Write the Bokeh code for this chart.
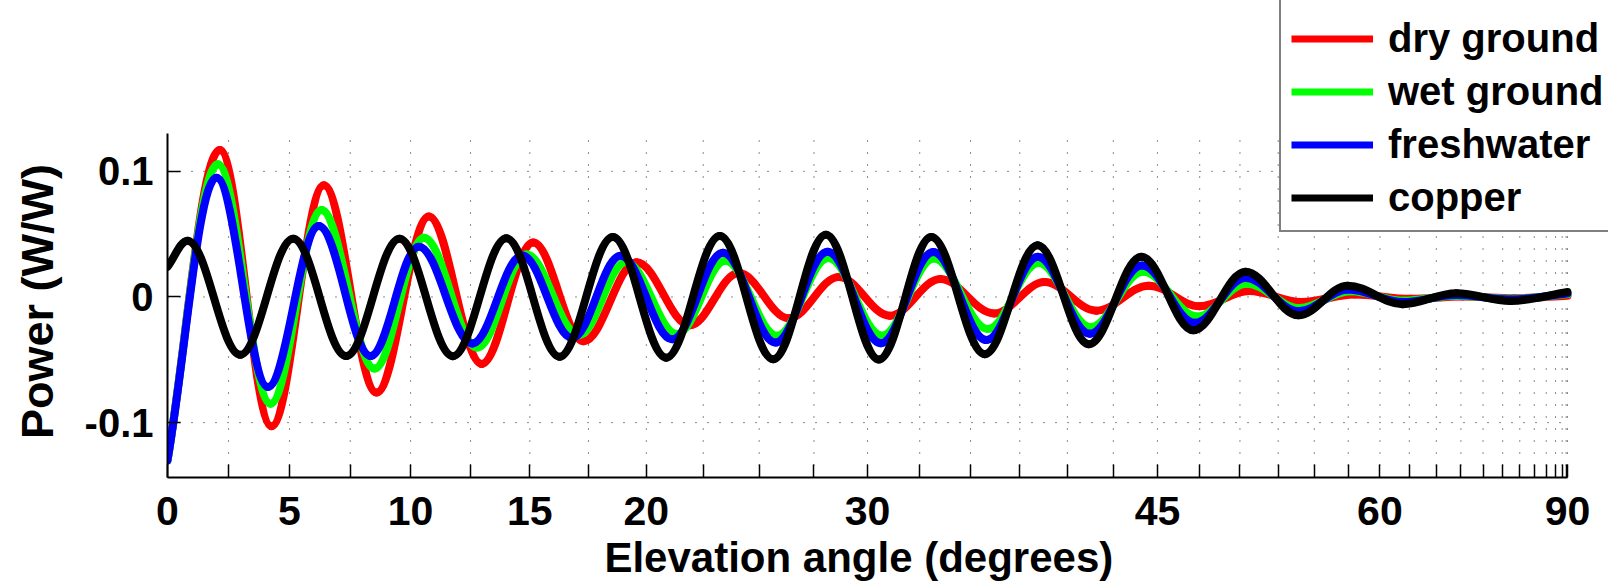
import math
from bokeh.plotting import figure
from bokeh.models import Range1d, FixedTicker, Legend, LegendItem, ColumnDataSource
from bokeh.embed import file_html
from bokeh.resources import INLINE

# ---- data (x = sine of the elevation angle, the axis is linear in sin(elevation)) ----
# extremes of each curve (plus the start and end values)
copper_u = [0.0, 0.0143, 0.0520, 0.0898, 0.1276, 0.1657, 0.2038, 0.2421, 0.2800, 0.3181,
            0.3562, 0.3945, 0.4326, 0.4703, 0.5081, 0.5456, 0.5837, 0.6215, 0.6581, 0.6956,
            0.7328, 0.7700, 0.8078, 0.8431, 0.8822, 0.9206, 0.9593, 1.0]
copper_p = [0.0240, 0.0448, -0.0460, 0.0464, -0.0470, 0.0464, -0.0471, 0.0467, -0.0475, 0.0477,
            -0.0483, 0.0485, -0.0496, 0.0495, -0.0498, 0.0478, -0.0455, 0.0412, -0.0376, 0.0320,
            -0.0265, 0.0201, -0.0146, 0.0090, -0.0057, 0.0030, -0.0032, 0.0040]

wet_u = [0.0, 0.0360, 0.0736, 0.1100, 0.1479, 0.1831, 0.2212, 0.2564, 0.2938, 0.3275,
         0.3640, 0.3985, 0.4355, 0.4720, 0.5105, 0.5474, 0.5860, 0.6222, 0.6593, 0.6969,
         0.7355, 0.7707, 0.8085, 0.8450, 0.8830, 0.9210, 0.9600, 1.0]
wet_p = [-0.1300, 0.1056, -0.0849, 0.0692, -0.0570, 0.0472, -0.0403, 0.0338, -0.0305, 0.0279,
         -0.0295, 0.0288, -0.0308, 0.0310, -0.0308, 0.0306, -0.0255, 0.0270, -0.0240, 0.0200,
         -0.0155, 0.0106, -0.0088, 0.0045, -0.0030, 0.0010, -0.0015, 0.0022]

fresh_u = [0.0, 0.0350, 0.0717, 0.1081, 0.1450, 0.1795, 0.2176, 0.2533, 0.2890, 0.3236,
           0.3605, 0.3968, 0.4343, 0.4715, 0.5095, 0.5470, 0.5850, 0.6217, 0.6588, 0.6960,
           0.7340, 0.7700, 0.8080, 0.8435, 0.8825, 0.9205, 0.9595, 1.0]
fresh_p = [-0.1300, 0.0950, -0.0716, 0.0565, -0.0470, 0.0400, -0.0370, 0.0330, -0.0326, 0.0328,
           -0.0337, 0.0352, -0.0363, 0.0360, -0.0368, 0.0358, -0.0343, 0.0320, -0.0293, 0.0250,
           -0.0206, 0.0152, -0.0114, 0.0060, -0.0040, 0.0015, -0.0020, 0.0028]

dry_u = [0.0, 0.0374, 0.0743, 0.1117, 0.1493, 0.1867, 0.2244, 0.2612, 0.2972, 0.3350,
         0.3730, 0.4080, 0.4438, 0.4795, 0.5160, 0.5521, 0.5905, 0.6265, 0.6635, 0.7010,
         0.7372, 0.7726, 0.8100, 0.8480, 0.8880, 0.9250, 0.9620, 1.0]
dry_p = [-0.1300, 0.1170, -0.1030, 0.0889, -0.0761, 0.0641, -0.0533, 0.0433, -0.0352, 0.0277,
         -0.0225, 0.0190, -0.0170, 0.0159, -0.0149, 0.0143, -0.0131, 0.0119, -0.0109, 0.0090,
         -0.0074, 0.0048, -0.0040, 0.0020, -0.0015, 0.0003, -0.0010, 0.0010]

series_names = ["dry ground", "wet ground", "freshwater", "copper"]
series_colors = ["#ff0000", "#00ff00", "#0000ff", "#000000"]

tick_degrees = [i * 2.5 for i in range(37)]
labeled_degrees = [0, 5, 10, 15, 20, 30, 45, 60, 90]
y_ticks = [-0.1, 0, 0.1]
y_tick_labels = ["-0.1", "0", "0.1"]

# axes box of the reference (data units); the frame itself is larger so the
# legend may sit above and to the right of the axes box, as in the reference
Y_MIN, Y_AXIS_TOP = -0.1437, 0.1305
U_MIN, U_MAX = 0.0, 1.0

FONT = "Liberation Sans"
NBSP = "\u00a0"
K = 0.3642  # bezier handle fraction for a smooth half-wave between extremes


def smooth_source(us, ps):
    n = len(us)
    slopes = []
    for i in range(n):
        if i == 0:
            slopes.append((ps[1] - ps[0]) / (us[1] - us[0]))
        elif i == n - 1:
            slopes.append((ps[-1] - ps[-2]) / (us[-1] - us[-2]))
        else:
            slopes.append(0.0)
    d = dict(x0=[], y0=[], x1=[], y1=[], cx0=[], cy0=[], cx1=[], cy1=[])
    for i in range(n - 1):
        du = us[i + 1] - us[i]
        d["x0"].append(us[i]); d["y0"].append(ps[i])
        d["x1"].append(us[i + 1]); d["y1"].append(ps[i + 1])
        d["cx0"].append(us[i] + K * du); d["cy0"].append(ps[i] + slopes[i] * K * du)
        d["cx1"].append(us[i + 1] - K * du); d["cy1"].append(ps[i + 1] - slopes[i + 1] * K * du)
    return ColumnDataSource(d)


p = figure(width=1608, height=585, x_range=Range1d(0, 1.0293), y_range=Range1d(Y_MIN, 0.2360),
           output_backend="svg", toolbar_location=None, title=None,
           min_border_left=167, min_border_right=0, min_border_top=0, min_border_bottom=108)
p.outline_line_color = None
p.background_fill_color = "white"
p.border_fill_color = "white"
p.xgrid.grid_line_color = None
p.ygrid.grid_line_color = None

# x axis: linear in sin(elevation)
tick_u = [math.sin(math.radians(d)) for d in tick_degrees]
overrides = {}
for d, u in zip(tick_degrees, tick_u):
    overrides[u] = str(int(d)) if d in labeled_degrees else ""
p.xaxis.ticker = FixedTicker(ticks=tick_u)
p.xaxis.major_label_overrides = overrides
# trailing no-break spaces keep the titles centred on the axes box, not on the wider frame
p.xaxis.axis_label = "Elevation angle (degrees)" + NBSP * 5
p.xaxis.bounds = (U_MIN, U_MAX)
p.yaxis.ticker = FixedTicker(ticks=y_ticks)
p.yaxis.major_label_overrides = dict(zip(y_ticks, y_tick_labels))
p.yaxis.axis_label = "Power (W/W)" + NBSP * 10
p.yaxis.bounds = (Y_MIN, Y_AXIS_TOP)

for ax in (p.xaxis[0], p.yaxis[0]):
    ax.axis_line_color = "black"
    ax.axis_line_width = 2
    ax.major_tick_line_color = "black"
    ax.major_tick_line_width = 1.5
    ax.major_tick_in = 13
    ax.major_tick_out = 0
    ax.minor_tick_line_color = None
    ax.major_label_text_font = FONT
    ax.major_label_text_font_style = "bold"
    ax.major_label_text_color = "black"
    ax.axis_label_text_font = FONT
    ax.axis_label_text_font_style = "bold"
    ax.axis_label_text_color = "black"

p.xaxis.major_label_text_font_size = "41px"
p.xaxis.major_label_standoff = 19
p.xaxis.axis_label_text_font_size = "42px"
p.xaxis.axis_label_standoff = 6
p.yaxis.major_label_text_font_size = "40px"
p.yaxis.major_label_standoff = 14
p.yaxis.axis_label_text_font_size = "45px"
p.yaxis.axis_label_standoff = 19

# dotted grid, limited to the axes box
p.segment(x0=tick_u, y0=[Y_MIN] * len(tick_u), x1=tick_u, y1=[Y_AXIS_TOP] * len(tick_u),
          line_color="black", line_width=1, line_dash="1 11", line_alpha=0.9)
p.segment(x0=[U_MIN] * len(y_ticks), y0=y_ticks, x1=[U_MAX] * len(y_ticks), y1=y_ticks,
          line_color="black", line_width=1, line_dash="1 11", line_alpha=0.9)

all_u = [dry_u, wet_u, fresh_u, copper_u]
all_p = [dry_p, wet_p, fresh_p, copper_p]
items = []
for name, color, us, ps in zip(series_names, series_colors, all_u, all_p):
    src = smooth_source(us, ps)
    p.bezier(x0="x0", y0="y0", x1="x1", y1="y1", cx0="cx0", cy0="cy0", cx1="cx1", cy1="cy1",
             source=src, line_color=color, line_width=8, line_cap="round")
    dummy = p.line(x=[float("nan")], y=[float("nan")], line_color=color, line_width=7)
    items.append(LegendItem(label=name, renderers=[dummy]))

# legend box runs past the top and right edges of the page, as in the reference
legend = Legend(items=items, location=(1112, 245), orientation="vertical",
                title=NBSP, title_text_font_size="16px", title_standoff=6,
                label_text_font=FONT, label_text_font_style="bold", label_text_font_size="40px",
                label_text_color="black", glyph_width=82, glyph_height=45, label_height=45,
                spacing=8, padding=10, label_standoff=15, margin=0,
                border_line_color="black", border_line_width=2.5,
                background_fill_color="white", background_fill_alpha=1.0)
p.add_layout(legend)

open("out.html", "w").write(file_html(p, INLINE))
